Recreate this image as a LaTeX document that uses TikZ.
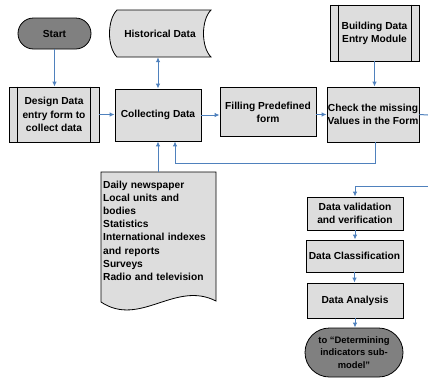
\documentclass[tikz,border=0pt]{standalone}
\usepackage{fontspec}
\setmainfont{Liberation Sans}
\usetikzlibrary{arrows.meta}
\definecolor{boxfill}{RGB}{221,221,221}
\definecolor{termfill}{RGB}{128,128,128}
\definecolor{flow}{RGB}{79,129,189}
\begin{document}
\begin{tikzpicture}[x=1pt,y=-1pt,
  font=\fontsize{10.2}{13.2}\selectfont\bfseries,
  procbox/.style={draw=black, fill=boxfill, line width=0.8pt, align=center, inner sep=1pt},
  termbox/.style={draw=black, fill=termfill, line width=0.8pt, align=center, inner sep=0pt},
  flowline/.style={draw=flow, line width=1pt},
  flowarrow/.style={flowline, -{Latex[length=5pt,width=4.5pt]}},
  shapeline/.style={draw=black, fill=boxfill, line width=0.8pt}]
\useasboundingbox (0,0) rectangle (428,386);

% terminators
\node[termbox, minimum width=73pt, minimum height=31pt, rounded corners=15.5pt] (start) at (54.5,33.5) {Start};
\node[termbox, minimum width=98pt, minimum height=49pt, rounded corners=24.5pt,
  font=\fontsize{9.4}{12.5}\selectfont\bfseries] (finish) at (354,352.5) {to “Determining\\indicators sub-\\model”};

% stored data: Historical Data
\node[minimum width=99pt, minimum height=47pt] (hist) at (160,33.5) {};
\path[shapeline] (117,10) -- (211,10) .. controls (201,20) and (201,47) .. (211,57)
  -- (117,57) .. controls (107,47) and (107,20) .. (117,10) -- cycle;
\node at (hist) {Historical Data};

% predefined processes
\node[procbox, minimum width=90pt, minimum height=55pt] (design) at (54,114.5) {Design Data\\entry form to\\collect data};
\draw[line width=0.8pt] ([xshift=9pt]design.north west) -- ([xshift=9pt]design.south west)
  ([xshift=-9pt]design.north east) -- ([xshift=-9pt]design.south east);
\node[procbox, minimum width=89pt, minimum height=56pt] (build) at (374.5,33) {Building Data\\Entry Module};
\draw[line width=0.8pt] ([xshift=9pt]build.north west) -- ([xshift=9pt]build.south west)
  ([xshift=-8pt]build.north east) -- ([xshift=-8pt]build.south east);

% processes
\node[procbox, minimum width=86pt, minimum height=52pt] (collect) at (158,115) {Collecting Data};
\node[procbox, minimum width=96pt, minimum height=49pt] (fill) at (268,112) {Filling Predefined\\form};
\node[procbox, minimum width=92pt, minimum height=55pt, inner sep=0pt] (check) at (373,114.5) {Check the missing\\Values in the Form};
\node[procbox, minimum width=96pt, minimum height=33pt] (valid) at (355,213.5) {Data validation\\and verification};
\node[procbox, minimum width=97pt, minimum height=32pt] (class) at (354.5,256) {Data Classification};
\node[procbox, minimum width=96pt, minimum height=35pt] (analysis) at (355,300.5) {Data Analysis};

% document: data sources
\path[shapeline] (101,172) -- (216,172) -- (216,301)
  .. controls (175,280) and (140,328) .. (101,302) -- cycle;
\node[anchor=north west, text width=112pt, align=left, inner sep=0pt] (doc) at (103,180.5)
  {Daily newspaper\\Local units and\\bodies\\Statistics\\International indexes\\and reports\\Surveys\\Radio and television};
\coordinate (doctop) at (158,172);

% free ends at the right border
\coordinate (outright) at (428,115);
\coordinate (inright) at (428,186);

% connectors
\draw[flowarrow] (start.south) -- (start.south |- design.north);
\draw[flowarrow] (design.east) -- (design.east -| collect.west);
\draw[flowline, {Latex[length=5pt,width=4.5pt]}-{Latex[length=5pt,width=4.5pt]}] (collect.north |- hist.south) -- (collect.north);
\draw[flowarrow] (collect.east) -- (collect.east -| fill.west);
\draw[flowarrow] (check.west -| fill.east) -- (check.west);
\draw[flowarrow] (build.south) -- (build.south |- check.north);
\draw[flowline] (check.east) -- (outright);
\draw[flowarrow] ([xshift=2pt]check.south) -- ++(0,21) -| ([xshift=17pt]collect.south);
\draw[flowarrow] (doctop) -- (collect.south);
\draw[flowarrow] (inright) -| (valid.north);
\draw[flowarrow] (valid.south) -- (valid.south |- class.north);
\draw[flowarrow] (class.south) -- (class.south |- analysis.north);
\draw[flowarrow] (analysis.south) -- (analysis.south |- finish.north);
\end{tikzpicture}
\end{document}
